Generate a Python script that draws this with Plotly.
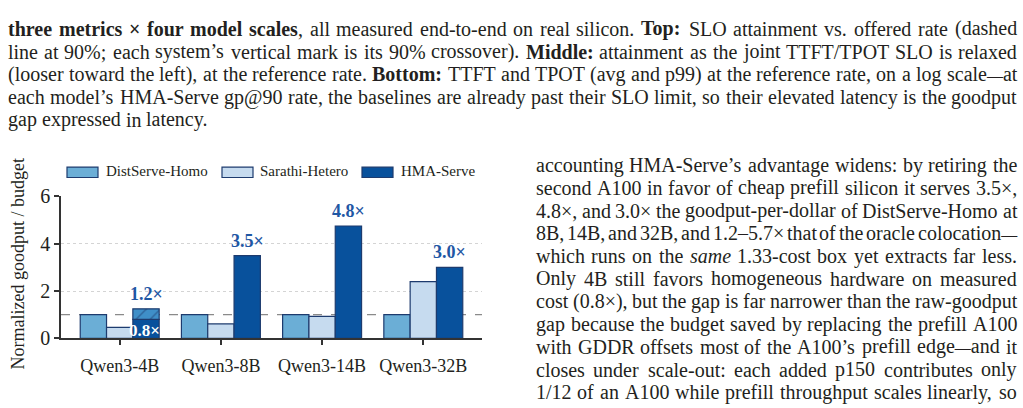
import plotly.graph_objects as go

W, H = 1023, 408

# ---------------- data ----------------
models = ["Qwen3-4B", "Qwen3-8B", "Qwen3-14B", "Qwen3-32B"]
distserve_homo = [1.0, 1.0, 1.0, 1.0]
sarathi_hetero = [0.46, 0.61, 0.93, 2.40]
hma_serve = [0.80, 3.50, 4.75, 3.00]
hma_uplift_model = ["Qwen3-4B"]
hma_uplift_base = [0.80]
hma_uplift = [0.45]
label_models = ["Qwen3-4B", "Qwen3-8B", "Qwen3-14B", "Qwen3-32B"]
label_tops = [1.25, 3.50, 4.75, 3.00]
label_text = ["1.2×", "3.5×", "4.8×", "3.0×"]
inner_label = "0.8×"
inner_value = 0.80
slo_ref = 1.0
yticks = [0, 2, 4, 6]

top_lines = [
    "<b>three metrics × four model scales</b>, all measured end-to-end on real silicon. <b>Top:</b> SLO attainment vs. offered rate (dashed",
    "line at 90%; each system’s vertical mark is its 90% crossover). <b>Middle:</b> attainment as the joint TTFT/TPOT SLO is relaxed",
    "(looser toward the left), at the reference rate. <b>Bottom:</b> TTFT and TPOT (avg and p99) at the reference rate, on a log scale—at",
    "each model’s HMA-Serve gp@90 rate, the baselines are already past their SLO limit, so their elevated latency is the goodput",
    "gap expressed in latency.",
]
top_justify = [True, True, True, True, False]
right_lines = [
    "accounting HMA-Serve’s advantage widens: by retiring the",
    "second A100 in favor of cheap prefill silicon it serves 3.5×,",
    "4.8×, and 3.0× the goodput-per-dollar of DistServe-Homo at",
    "8B, 14B, and 32B, and 1.2–5.7× that of the oracle colocation—",
    "which runs on the <i>same</i> 1.33-cost box yet extracts far less.",
    "Only 4B still favors homogeneous hardware on measured",
    "cost (0.8×), but the gap is far narrower than the raw-goodput",
    "gap because the budget saved by replacing the prefill A100",
    "with GDDR offsets most of the A100’s prefill edge—and it",
    "closes under scale-out: each added p150 contributes only",
    "1/12 of an A100 while prefill throughput scales linearly, so",
]
right_justify = [True] * 11

# ---------------- styling ----------------
FONT = "Liberation Serif"
C_DS = "#6baed6"
C_SH = "#c6dbef"
C_HMA = "#08519c"
C_UP = "#3f8fc8"
EDGE = "#1d3b6e"
LBL = "#1f57a4"
TXT = "#231f20"
BODY_SIZE = 20
DASH_SIZE = 16

# Times metrics (Liberation Serif is metric compatible), units of 1/1000 em
_REG = dict(zip("ABCDEFGHIJKLMNOPQRSTUVWXYZ",
                [722, 667, 667, 722, 611, 556, 722, 722, 333, 389, 722, 611, 889, 722, 722, 556, 722, 667, 556, 611, 722, 722, 944, 722, 722, 611]))
_REG.update(zip("abcdefghijklmnopqrstuvwxyz",
                [444, 500, 444, 500, 444, 333, 500, 500, 278, 278, 500, 278, 778, 500, 500, 500, 500, 333, 389, 278, 500, 500, 722, 500, 500, 444]))
_REG.update({c: 500 for c in "0123456789"})
_REG.update({" ": 250, ".": 250, ",": 250, ":": 278, ";": 278, "-": 333, "(": 333, ")": 333, "/": 278,
             "%": 833, "@": 921, "×": 564, "—": 1000, "–": 500, "’": 333, "'": 180})
_BOLD = dict(zip("ABCDEFGHIJKLMNOPQRSTUVWXYZ",
                 [722, 667, 722, 722, 667, 611, 778, 778, 389, 500, 778, 667, 944, 722, 778, 611, 778, 722, 556, 667, 722, 722, 1000, 722, 722, 667]))
_BOLD.update(zip("abcdefghijklmnopqrstuvwxyz",
                 [500, 556, 444, 556, 444, 333, 500, 556, 278, 333, 556, 278, 833, 556, 500, 556, 556, 444, 389, 333, 556, 500, 722, 500, 500, 444]))
_BOLD.update({c: 500 for c in "0123456789"})
_BOLD.update({" ": 250, ".": 250, ",": 250, ":": 333, "-": 333, "×": 570})
_ITAL = dict(zip("abcdefghijklmnopqrstuvwxyz",
                 [500, 500, 444, 500, 444, 278, 500, 500, 278, 278, 444, 278, 722, 500, 500, 500, 500, 389, 389, 278, 500, 444, 667, 444, 444, 389]))


def char_width(ch, style, size):
    if ch == "—":
        return 1000 * DASH_SIZE / 1000.0
    table = {"b": _BOLD, "i": _ITAL}.get(style, _REG)
    return table.get(ch, _REG.get(ch, 500)) * size / 1000.0


def parse_words(line):
    """Return list of words, each a list of (char, style)."""
    words, cur, style, i = [], [], "", 0
    while i < len(line):
        for tag, st in (("<b>", "b"), ("<i>", "i")):
            if line.startswith(tag, i):
                style = st; i += len(tag); break
        else:
            if line.startswith("</b>", i) or line.startswith("</i>", i):
                style = ""; i += 4; continue
            ch = line[i]
            if ch == " ":
                if cur:
                    words.append(cur); cur = []
            else:
                cur.append((ch, style))
            i += 1
            continue
    if cur:
        words.append(cur)
    return words


def render_word(word):
    out, run, run_style = [], "", None

    def flush(run, st):
        if not run:
            return ""
        return f"<{st}>{run}</{st}>" if st else run

    for ch, st in word:
        if ch == "—":
            out.append(flush(run, run_style)); run = ""; run_style = None
            out.append(f'<span style="font-size:{DASH_SIZE}px">—</span>')
            continue
        if st != run_style:
            out.append(flush(run, run_style)); run = ""; run_style = st
        run += ch
    out.append(flush(run, run_style))
    return "".join(out)


def px(x):
    return x / W


def py(y):
    return 1 - y / H


def text_block(lines, justify, x_left, x_right, y_first, step, size):
    out = []
    for i, line in enumerate(lines):
        words = parse_words(line)
        widths = [sum(char_width(c, s, size) for c, s in w) for w in words]
        if justify[i] and len(words) > 1:
            gap = (x_right - x_left - sum(widths)) / (len(words) - 1)
        else:
            gap = 0.25 * size
        x = x_left
        for w, wd in zip(words, widths):
            out.append(dict(x=px(x), y=py(y_first + step * i), xref="paper", yref="paper",
                            text=render_word(w), showarrow=False, xanchor="left", yanchor="middle",
                            borderpad=0, font=dict(family=FONT, size=size, color=TXT)))
            x += wd + gap
    return out


fig = go.Figure()
fig.add_bar(x=models, y=distserve_homo, name="DistServe-Homo", offsetgroup="a",
            marker=dict(color=C_DS, line=dict(color=EDGE, width=1.2)))
fig.add_bar(x=models, y=sarathi_hetero, name="Sarathi-Hetero", offsetgroup="b",
            marker=dict(color=C_SH, line=dict(color=EDGE, width=1.2)))
fig.add_bar(x=models, y=hma_serve, name="HMA-Serve", offsetgroup="c",
            marker=dict(color=C_HMA, line=dict(color=EDGE, width=1.2)))
fig.add_bar(x=hma_uplift_model, y=hma_uplift, base=hma_uplift_base, offsetgroup="c",
            showlegend=False,
            marker=dict(color=C_UP, line=dict(color=EDGE, width=1.2),
                        pattern=dict(shape="/", fgcolor=EDGE, bgcolor=C_UP, size=10, solidity=0.15)))

x0d, x1d = px(61), px(482)
y0d, y1d = py(346), py(196)

fig.add_shape(type="line", xref="paper", yref="y", x0=x0d, x1=x1d, y0=slo_ref, y1=slo_ref,
              line=dict(color="#8a8a8a", width=1.3, dash="dash"), layer="below")

anns = []
for m, t, s in zip(label_models, label_tops, label_text):
    anns.append(dict(x=m, y=t, xref="x", yref="y", text=f"<b>{s}</b>", showarrow=False,
                     yanchor="bottom", yshift=3, xshift=26.3,
                     font=dict(family=FONT, size=18, color=LBL)))
anns.append(dict(x=models[0], y=inner_value, xref="x", yref="y", text=f"<b>{inner_label}</b>",
                 showarrow=False, yanchor="top", yshift=0, xshift=25,
                 font=dict(family=FONT, size=17, color="white")))

# y axis title
anns.append(dict(x=px(18), y=py(268), xref="paper", yref="paper", text="Normalized goodput / budget",
                 textangle=-90, showarrow=False, xanchor="center", yanchor="middle",
                 font=dict(family=FONT, size=18, color=TXT)))

# legend (manual patches)
leg = [("DistServe-Homo", C_DS, 67, 104), ("Sarathi-Hetero", C_SH, 222, 258), ("HMA-Serve", C_HMA, 362, 399)]
for name, col, xa, xt in leg:
    fig.add_shape(type="rect", xref="paper", yref="paper", x0=px(xa), x1=px(xa + 31),
                  y0=py(176), y1=py(165), fillcolor=col, line=dict(color=EDGE, width=1.2))
    anns.append(dict(x=px(xt), y=py(169.5), xref="paper", yref="paper", text=name, showarrow=False,
                     xanchor="left", yanchor="middle", font=dict(family=FONT, size=15, color=TXT)))

# body text
anns += text_block(top_lines, top_justify, 7, 1016, 19, 24, BODY_SIZE)
anns += text_block(right_lines, right_justify, 535, 1016, 163, 24, BODY_SIZE)

fig.update_layout(
    width=W, height=H, margin=dict(l=0, r=0, t=0, b=0),
    paper_bgcolor="white", plot_bgcolor="white",
    barmode="group", bargap=0.22, bargroupgap=0,
    showlegend=False, annotations=anns,
    font=dict(family=FONT, size=17, color=TXT),
    xaxis=dict(domain=[x0d, x1d], range=[-0.58, 3.58], showline=True, linecolor="#333", linewidth=1.5,
               ticks="outside", ticklen=5, tickwidth=1.5, tickcolor="#333", showgrid=False,
               ticklabelstandoff=5,
               tickfont=dict(family=FONT, size=18, color=TXT)),
    yaxis=dict(domain=[y0d, y1d], range=[0, 6], tickvals=yticks, showline=True, linecolor="#333",
               linewidth=1.5, ticks="outside", ticklen=5, tickwidth=1.5, tickcolor="#333",
               showgrid=True, gridcolor="#d4d4d4", griddash="dot", gridwidth=1, zeroline=False,
               tickfont=dict(family=FONT, size=20, color=TXT)),
)

fig.write_html("out.html")
